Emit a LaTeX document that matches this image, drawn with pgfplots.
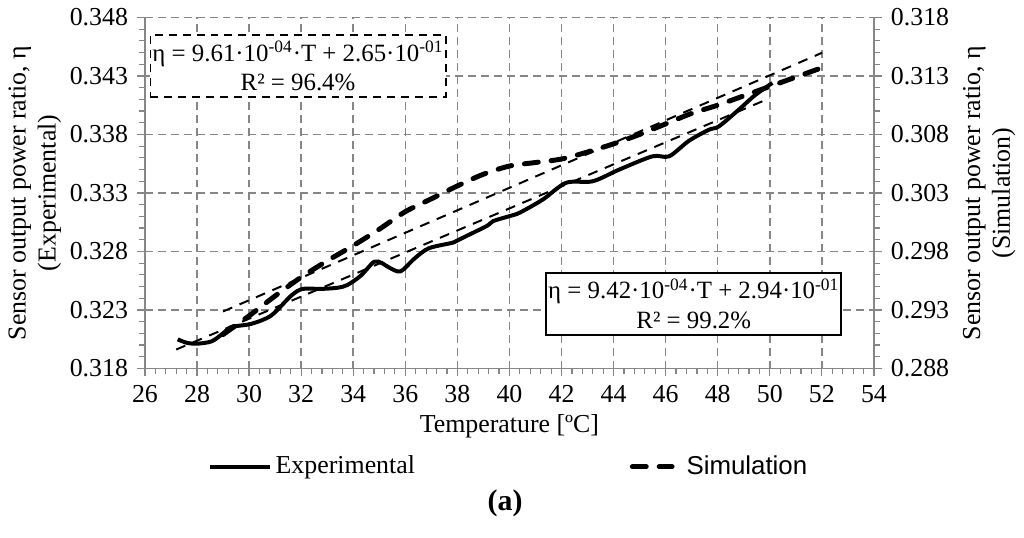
\documentclass[border=0pt]{standalone}
\usepackage{fontspec}
\setmainfont{Liberation Serif}
\newfontfamily\arialfont{Liberation Sans}
\usepackage{pgfplots}
\pgfplotsset{compat=1.18}
\definecolor{axgray}{RGB}{134,134,134}
\pgfplotsset{
 longleg/.style={legend image code/.code={\draw[black,line width=2.2pt] (0pt,0pt) -- (30pt,0pt);}},
 shortleg/.style={legend image code/.code={\draw[black,line width=2.5pt,line cap=round,dash pattern=on 7pt off 6.5pt] (1pt,0pt) -- (21pt,0pt); \path (25pt,0pt);}},
}
\begin{document}
\fontsize{13}{15}\selectfont
\begin{tikzpicture}[font=\fontsize{13}{15}\selectfont]
\pgfplotsset{
 common/.style={
  scale only axis, width=366.5pt, height=176.5pt,
  xmin=26, xmax=54, at={(0,0)}, anchor=south west,
  axis line style={axgray, line width=0.75pt},
  tick style={axgray, line width=0.6pt},
  tick align=outside, major tick length=4pt, minor tick length=3pt,
  /pgf/number format/assume math mode=true,
  ticklabel style={font=\fontsize{13}{15}\selectfont},
  yticklabel style={/pgf/number format/.cd, fixed, fixed zerofill, precision=3},
  minor y tick num=4,
  clip mode=individual,
 }
}
\begin{axis}[common,
 axis x line*=bottom, axis y line*=left,
 ymin=0.318, ymax=0.348,
 ytick={0.318,0.323,0.328,0.333,0.338,0.343,0.348},
 xtick={26,28,...,54}, minor x tick num=4,
 grid=major, major grid style={axgray, line width=0.75pt, dash pattern=on 4pt off 2.5pt},
 xlabel={Temperature [ºC]},
 ylabel={Sensor output power ratio, η\\(Experimental)},
 ylabel style={align=center, at={(axis description cs:-0.151,0.5)}, anchor=center},
 xlabel style={at={(axis description cs:0.5,-0.164)}, anchor=center},
]
\addplot[black, line width=2pt, smooth, tension=0.5] coordinates {
(27.26,0.32049) (27.6,0.32020) (28.0,0.32012) (28.56,0.32032) (29.0,0.32100)
(29.32,0.32154) (30.09,0.32182) (30.85,0.32253) (31.62,0.32423) (32.06,0.32480)
(32.76,0.32480) (33.4,0.32490) (33.78,0.32514) (34.29,0.32593) (34.80,0.32712)
(35.1,0.32700) (35.4,0.32660) (35.82,0.32630) (36.33,0.32735) (36.9,0.32827)
(37.85,0.32877) (38.23,0.32919) (39.13,0.33018) (39.38,0.33060) (40.02,0.33103)
(40.40,0.33132) (41.29,0.33245) (42.18,0.33387) (43.20,0.33400) (44.22,0.33500)
(45.49,0.33613) (46.13,0.33613) (46.89,0.33745) (47.66,0.33840) (48.04,0.33868)
(48.80,0.34010) (49.44,0.34137) (50.1,0.34240)
};
\addplot[black, line width=1pt, dash pattern=on 5pt off 4pt] coordinates {(27.2,0.31962) (50.0,0.34110)};
\node[draw=black, line width=1pt, dash pattern=on 4pt off 3pt, fill=white, align=center,
 font=\fontsize{12.5}{15}\selectfont,
 minimum width=147.5pt, minimum height=31.5pt, inner sep=1pt] at (axis cs:31.88,0.34384)
 {η = 9.61·10\textsuperscript{-04}·T + 2.65·10\textsuperscript{-01}\\R² = 96.4\%};
\node[draw=black, line width=1pt, fill=white, align=center,
 font=\fontsize{12.5}{15}\selectfont,
 minimum width=147.5pt, minimum height=31.5pt, inner sep=1pt] at (axis cs:47.08,0.32352)
 {η = 9.42·10\textsuperscript{-04}·T + 2.94·10\textsuperscript{-01}\\R² = 99.2\%};
\node[font=\fontsize{15}{17}\selectfont\bfseries] at (axis description cs:0.494,-0.385) {(a)};
\end{axis}
\begin{axis}[common,
 axis y line*=right, axis x line=none,
 ymin=0.288, ymax=0.318,
 ytick={0.288,0.293,0.298,0.303,0.308,0.313,0.318},
 ylabel={Sensor output power ratio, η\\(Simulation)},
 ylabel style={align=center, at={(axis description cs:1.158,0.5)}, anchor=center, rotate=0},
 legend columns=2,
 legend style={at={(axis description cs:0.5,-0.28)}, anchor=center, draw=none, fill=none,
   /tikz/every even column/.append style={column sep=106pt}},
]
\addlegendimage{longleg}
\addlegendentry{Experimental}
\addplot[black, line width=2.5pt, line cap=round, dash pattern=on 7pt off 6.5pt, smooth, tension=0.5, shortleg] coordinates {
(29,0.2909) (30,0.2925) (31,0.2942) (32,0.2958) (33,0.2972) (34,0.2985) (35,0.2999)
(36,0.3014) (37,0.3025) (38,0.3036) (39,0.3046) (40,0.3053) (41,0.3056) (42,0.3059)
(43,0.3065) (44,0.3072) (45,0.3080) (46,0.3089) (47,0.3098) (48,0.3105) (49,0.3113)
(50,0.3121) (51,0.3129) (52,0.3137)
};
\addlegendentry{\arialfont Simulation}
\addplot[black, line width=1pt, dash pattern=on 5pt off 4pt, forget plot] coordinates {(29,0.29287) (52,0.314972)};
\end{axis}
\path[use as bounding box] (-71.5pt,-85pt) rectangle (440.5pt,185pt);
\end{tikzpicture}
\end{document}
